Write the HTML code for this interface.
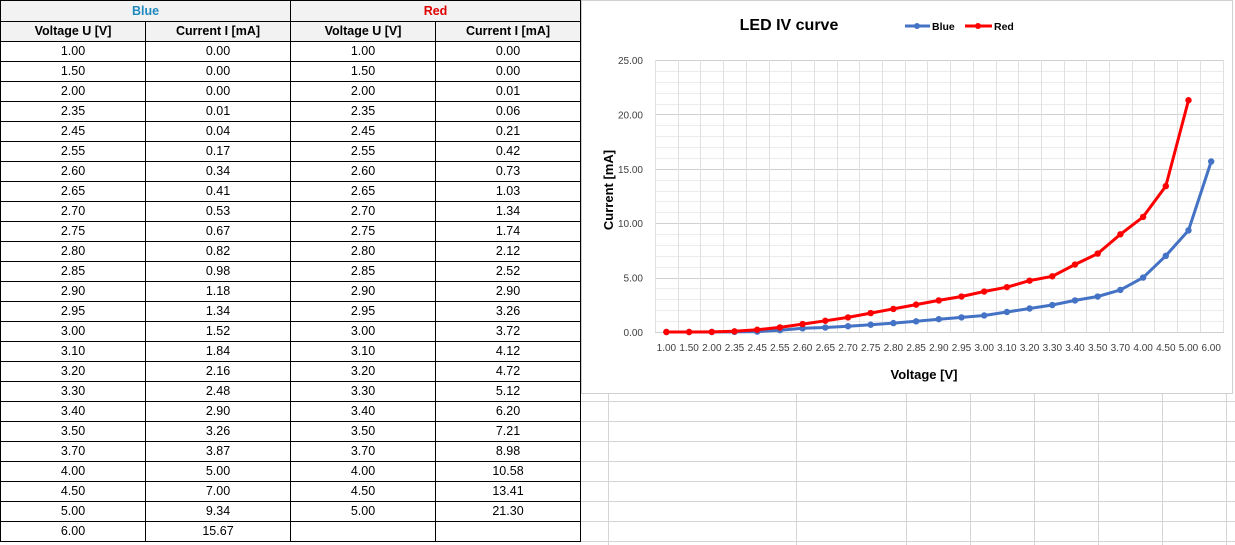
<!DOCTYPE html>
<html><head><meta charset="utf-8"><style>
body{margin:0;width:1235px;height:545px;background:#fff;position:relative;overflow:hidden;font-family:"Liberation Sans",sans-serif;}
table{position:absolute;left:0;top:0;border-collapse:collapse;table-layout:fixed;font-size:12.5px;}
td{border:1px solid #000;height:19px;padding:0;text-align:center;line-height:19px;}
tr.h td{background:#f2f2f2;font-weight:bold;}
</style></head><body>
<svg width="1235" height="545" style="position:absolute;left:0;top:0">
<g stroke="#d4d4d4" stroke-width="1">
<line x1="580" y1="401.5" x2="1235" y2="401.5"/><line x1="580" y1="421.5" x2="1235" y2="421.5"/><line x1="580" y1="441.5" x2="1235" y2="441.5"/><line x1="580" y1="461.5" x2="1235" y2="461.5"/><line x1="580" y1="481.5" x2="1235" y2="481.5"/><line x1="580" y1="501.5" x2="1235" y2="501.5"/><line x1="580" y1="521.5" x2="1235" y2="521.5"/><line x1="580" y1="541.5" x2="1235" y2="541.5"/>
<line x1="608.5" y1="394" x2="608.5" y2="545"/><line x1="796.5" y1="394" x2="796.5" y2="545"/><line x1="906.5" y1="394" x2="906.5" y2="545"/><line x1="970.5" y1="394" x2="970.5" y2="545"/><line x1="1034.5" y1="394" x2="1034.5" y2="545"/><line x1="1098.5" y1="394" x2="1098.5" y2="545"/><line x1="1162.5" y1="394" x2="1162.5" y2="545"/><line x1="1226.5" y1="394" x2="1226.5" y2="545"/>
</g>
<rect x="581.5" y="0.5" width="651" height="393" fill="#fff" stroke="#d0d0d0"/>
<g id="grid"></g>
<text x="789" y="30" font-size="16" font-weight="bold" text-anchor="middle" fill="#000">LED IV curve</text>
<line x1="905" y1="26" x2="930" y2="26" stroke="#4472c4" stroke-width="3"/><circle cx="917" cy="26" r="3" fill="#4472c4"/>
<text x="932" y="30" font-size="10.5" font-weight="bold">Blue</text>
<line x1="965" y1="26" x2="992" y2="26" stroke="#f00" stroke-width="3"/><circle cx="978" cy="26" r="3" fill="#f00"/>
<text x="994" y="30" font-size="10.5" font-weight="bold">Red</text>
<text x="924" y="379" font-size="13" font-weight="bold" text-anchor="middle">Voltage [V]</text>
<text transform="translate(613,190) rotate(-90)" font-size="13" font-weight="bold" text-anchor="middle">Current [mA]</text>
<polyline fill="none" stroke="#4472c4" stroke-width="3" stroke-linejoin="round" points="666.4,332 689.1,332 711.8,332 734.5,331.9 757.2,331.6 779.9,330.2 802.6,328.3 825.3,327.5 848,326.2 870.7,324.7 893.4,323.1 916.1,321.3 938.8,319.2 961.5,317.4 984.2,315.5 1006.9,312 1029.6,308.5 1052.3,305 1075,300.4 1097.7,296.5 1120.4,289.9 1143.1,277.6 1165.8,255.8 1188.5,230.4 1211.2,161.5"/>
<g fill="#4472c4" id="bp"></g>
<polyline fill="none" stroke="#f00" stroke-width="3" stroke-linejoin="round" points="666.4,332 689.1,332 711.8,331.9 734.5,331.3 757.2,329.7 779.9,327.4 802.6,324.1 825.3,320.8 848,317.4 870.7,313.1 893.4,308.9 916.1,304.6 938.8,300.4 961.5,296.5 984.2,291.5 1006.9,287.2 1029.6,280.6 1052.3,276.3 1075,264.5 1097.7,253.6 1120.4,234.3 1143.1,216.9 1165.8,186.1 1188.5,100.3"/>
<g fill="#f00" id="rp"></g>
<g id="lbl" font-size="10" fill="#404040"></g>
</svg>
<script>
var ns="http://www.w3.org/2000/svg";
function el(p,t,a,txt){var e=document.createElementNS(ns,t);for(var k in a)e.setAttribute(k,a[k]);if(txt)e.textContent=txt;document.getElementById(p).appendChild(e);}
for(var v=0;v<=25;v++){var y=Math.round(332-v*10.88)+0.5;el("grid","line",{x1:655,x2:1224,y1:y,y2:y,stroke:v%5==0?"#d0d0d0":"#ececec","stroke-width":1});}
for(var k=0;k<=25;k++){var x=Math.round(655+22.7*k)+0.5;el("grid","line",{x1:x,x2:x,y1:60,y2:332,stroke:"#e0e0e0","stroke-width":1});}
var yl=["0.00","5.00","10.00","15.00","20.00","25.00"];
for(var i=0;i<6;i++)el("lbl","text",{x:643,y:336-i*54.4,"text-anchor":"end"},yl[i]);
var cats=["1.00","1.50","2.00","2.35","2.45","2.55","2.60","2.65","2.70","2.75","2.80","2.85","2.90","2.95","3.00","3.10","3.20","3.30","3.40","3.50","3.70","4.00","4.50","5.00","6.00"];
for(var i=0;i<25;i++)el("lbl","text",{x:666.4+22.7*i,y:351,"text-anchor":"middle"},cats[i]);
var b=[0,0,0,0.01,0.04,0.17,0.34,0.41,0.53,0.67,0.82,0.98,1.18,1.34,1.52,1.84,2.16,2.48,2.90,3.26,3.87,5.00,7.00,9.34,15.67];
var r=[0,0,0.01,0.06,0.21,0.42,0.73,1.03,1.34,1.74,2.12,2.52,2.90,3.26,3.72,4.12,4.72,5.12,6.20,7.21,8.98,10.58,13.41,21.30];
b.forEach(function(v,i){el("bp","circle",{cx:666.4+22.7*i,cy:332-v*10.88,r:3.2});});
r.forEach(function(v,i){el("rp","circle",{cx:666.4+22.7*i,cy:332-v*10.88,r:3.2});});
</script>
<table>
<colgroup><col style="width:145px"><col style="width:145px"><col style="width:145px"><col style="width:145px"></colgroup>
<tr class="h"><td colspan="2" style="color:#1f8ac0;height:20px">Blue</td><td colspan="2" style="color:#e00000">Red</td></tr>
<tr class="h"><td>Voltage U [V]</td><td>Current I [mA]</td><td>Voltage U [V]</td><td>Current I [mA]</td></tr>
<tr><td>1.00</td><td>0.00</td><td>1.00</td><td>0.00</td></tr>
<tr><td>1.50</td><td>0.00</td><td>1.50</td><td>0.00</td></tr>
<tr><td>2.00</td><td>0.00</td><td>2.00</td><td>0.01</td></tr>
<tr><td>2.35</td><td>0.01</td><td>2.35</td><td>0.06</td></tr>
<tr><td>2.45</td><td>0.04</td><td>2.45</td><td>0.21</td></tr>
<tr><td>2.55</td><td>0.17</td><td>2.55</td><td>0.42</td></tr>
<tr><td>2.60</td><td>0.34</td><td>2.60</td><td>0.73</td></tr>
<tr><td>2.65</td><td>0.41</td><td>2.65</td><td>1.03</td></tr>
<tr><td>2.70</td><td>0.53</td><td>2.70</td><td>1.34</td></tr>
<tr><td>2.75</td><td>0.67</td><td>2.75</td><td>1.74</td></tr>
<tr><td>2.80</td><td>0.82</td><td>2.80</td><td>2.12</td></tr>
<tr><td>2.85</td><td>0.98</td><td>2.85</td><td>2.52</td></tr>
<tr><td>2.90</td><td>1.18</td><td>2.90</td><td>2.90</td></tr>
<tr><td>2.95</td><td>1.34</td><td>2.95</td><td>3.26</td></tr>
<tr><td>3.00</td><td>1.52</td><td>3.00</td><td>3.72</td></tr>
<tr><td>3.10</td><td>1.84</td><td>3.10</td><td>4.12</td></tr>
<tr><td>3.20</td><td>2.16</td><td>3.20</td><td>4.72</td></tr>
<tr><td>3.30</td><td>2.48</td><td>3.30</td><td>5.12</td></tr>
<tr><td>3.40</td><td>2.90</td><td>3.40</td><td>6.20</td></tr>
<tr><td>3.50</td><td>3.26</td><td>3.50</td><td>7.21</td></tr>
<tr><td>3.70</td><td>3.87</td><td>3.70</td><td>8.98</td></tr>
<tr><td>4.00</td><td>5.00</td><td>4.00</td><td>10.58</td></tr>
<tr><td>4.50</td><td>7.00</td><td>4.50</td><td>13.41</td></tr>
<tr><td>5.00</td><td>9.34</td><td>5.00</td><td>21.30</td></tr>
<tr><td>6.00</td><td>15.67</td><td></td><td></td></tr>
</table>
</body></html>
